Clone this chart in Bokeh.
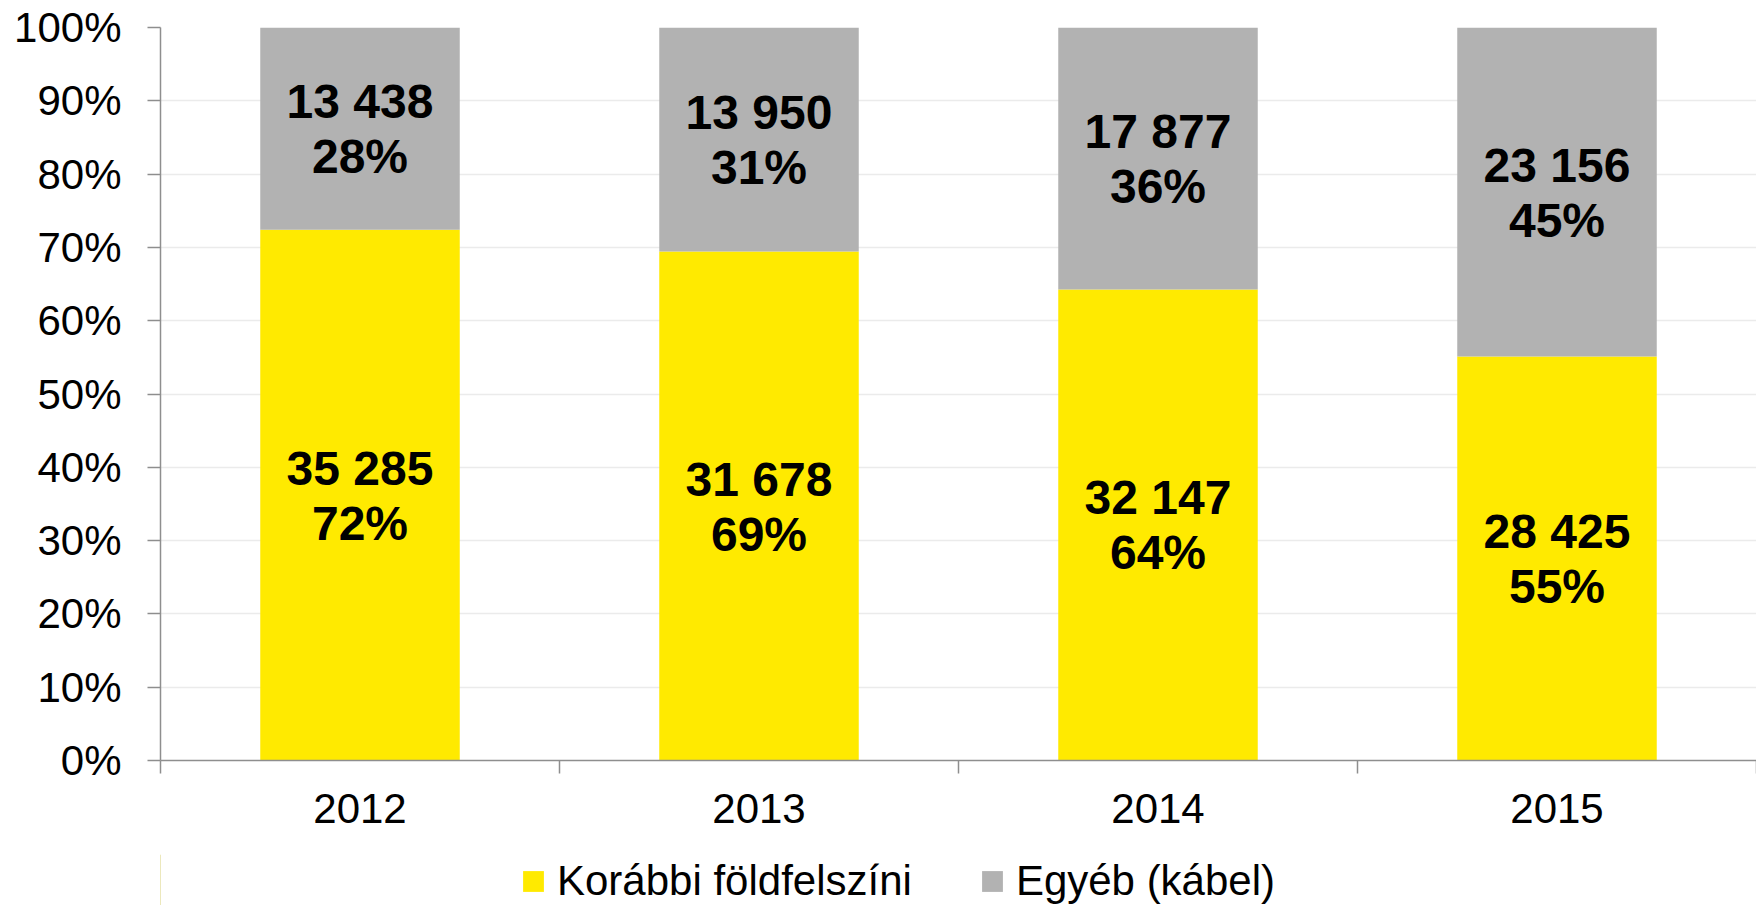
from bokeh.plotting import figure
from bokeh.layouts import column
from bokeh.models import (Range1d, FixedTicker, NumeralTickFormatter, Legend, LegendItem,
                          ColumnDataSource)
from bokeh.core.properties import value
from bokeh.embed import file_html
from bokeh.resources import INLINE

years = ["2012", "2013", "2014", "2015"]
korabbi = [35285, 31678, 32147, 28425]
egyeb = [13438, 13950, 17877, 23156]
series_names = ["Korábbi földfelszíni", "Egyéb (kábel)"]
colors = ["#FFEA00", "#B2B2B2"]
y_ticks = [0, 0.1, 0.2, 0.3, 0.4, 0.5, 0.6, 0.7, 0.8, 0.9, 1.0]

FONT = "Liberation Sans"

x = [i + 0.5 for i in range(len(years))]
tot = [a + b for a, b in zip(korabbi, egyeb)]
fk = [a / t for a, t in zip(korabbi, tot)]
fe = [b / t for b, t in zip(egyeb, tot)]

def fmt(v):
    return f"{v:,}".replace(",", " ")

src = ColumnDataSource(dict(
    x=x, k=fk, e=fe,
    k_mid=[f / 2 for f in fk],
    e_mid=[a + b / 2 for a, b in zip(fk, fe)],
    k_num=[fmt(v) for v in korabbi],
    e_num=[fmt(v) for v in egyeb],
    k_pct=[f"{round(f * 100)}%" for f in fk],
    e_pct=[f"{round(f * 100)}%" for f in fe],
))

p = figure(frame_width=1596, frame_height=733, output_backend="svg", toolbar_location=None,
           x_range=Range1d(0, 4), y_range=Range1d(0, 1),
           min_border_left=160, min_border_right=0, min_border_top=27, min_border_bottom=94)
p.outline_line_color = None

rs = p.vbar_stack(["k", "e"], x="x", width=0.5, color=colors, line_color=None, source=src)

for col_mid, num, pct in [("k_mid", "k_num", "k_pct"), ("e_mid", "e_num", "e_pct")]:
    p.text(x="x", y=col_mid, text=num, source=src, text_align="center", text_baseline="middle",
           text_font=value(FONT), text_font_style="bold", text_font_size="48px",
           text_color="black", y_offset=-27)
    p.text(x="x", y=col_mid, text=pct, source=src, text_align="center", text_baseline="middle",
           text_font=value(FONT), text_font_style="bold", text_font_size="48px",
           text_color="black", y_offset=28)

# axes
p.yaxis.ticker = FixedTicker(ticks=y_ticks)
p.yaxis.formatter = NumeralTickFormatter(format="0%")
p.yaxis.minor_tick_line_color = None
p.yaxis.major_tick_out = 13
p.yaxis.major_tick_in = 0
p.yaxis.major_label_standoff = 26
p.yaxis.axis_line_color = "#8E8E8E"
p.yaxis.major_tick_line_color = "#8E8E8E"
p.yaxis.axis_line_width = 1.5
p.yaxis.major_tick_line_width = 1.5

p.xaxis.ticker = FixedTicker(ticks=x, minor_ticks=[0, 1, 2, 3, 4])
p.xaxis.major_label_overrides = {xi: y for xi, y in zip(x, years)}
p.xaxis.major_tick_line_color = None
p.xaxis.major_tick_out = 13
p.xaxis.minor_tick_out = 13
p.xaxis.minor_tick_in = 0
p.xaxis.minor_tick_line_color = "#8E8E8E"
p.xaxis.minor_tick_line_width = 1.5
p.xaxis.major_label_standoff = 20
p.xaxis.axis_line_color = "#8E8E8E"
p.xaxis.axis_line_width = 1.5

for ax in (p.xaxis, p.yaxis):
    ax.major_label_text_font = FONT
    ax.major_label_text_font_size = "42px"
    ax.major_label_text_color = "black"

p.xgrid.grid_line_color = None
p.ygrid.ticker = FixedTicker(ticks=y_ticks)
p.ygrid.grid_line_color = "#EBEBEB"
p.ygrid.grid_line_width = 1.5

# legend strip below the chart
lg = figure(width=1756, height=51, output_backend="svg", toolbar_location=None,
            x_range=Range1d(0, 1), y_range=Range1d(0, 1),
            x_axis_type=None, y_axis_type=None,
            min_border_left=0, min_border_right=0, min_border_top=0, min_border_bottom=0)
lg.outline_line_color = None
lg.xgrid.visible = False
lg.ygrid.visible = False
# legend swatches (drawn outside the visible range; only their legend glyphs show)
proxies = [lg.vbar(x=[-10], top=[1], width=0.1, color=c, line_color=None) for c in colors]

legend = Legend(items=[LegendItem(label=series_names[i], renderers=[proxies[i]]) for i in range(2)],
                orientation="horizontal", location=(360, 0),
                label_text_font=FONT, label_text_font_size="42px", label_text_color="black",
                glyph_width=26, glyph_height=26, label_standoff=11, spacing=67,
                padding=0, margin=0, border_line_color=None, background_fill_alpha=0)
lg.add_layout(legend, "center")

open("out.html", "w").write(file_html(column(p, lg, spacing=0), INLINE))
